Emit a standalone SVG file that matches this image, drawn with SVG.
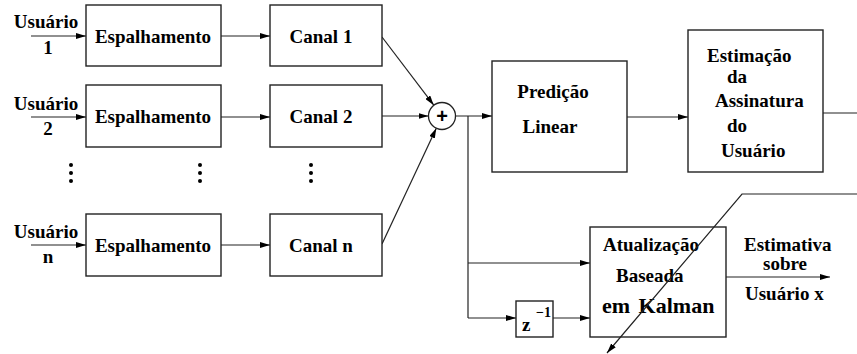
<svg xmlns="http://www.w3.org/2000/svg" width="857" height="354" viewBox="0 0 857 354">
<defs>
<marker id="ah" viewBox="0 0 10 6" refX="10" refY="3" markerWidth="10" markerHeight="6" markerUnits="userSpaceOnUse" orient="auto">
<path d="M0,0 L10,3 L0,6 Z" fill="#000"/>
</marker>
</defs>
<style>
.box{fill:#fff;stroke:#222;stroke-width:1.4}
.ln{fill:none;stroke:#222;stroke-width:1.2}
.ar{fill:none;stroke:#222;stroke-width:1.2;marker-end:url(#ah)}
text{font-family:"Liberation Serif","Times New Roman",serif;font-weight:bold;font-size:19px;fill:#000}
.c{text-anchor:middle}
</style>
<rect width="857" height="354" fill="#fff"/>
<g id="connectors">
<line class="ar" x1="31" y1="36" x2="86" y2="36"/>
<line class="ar" x1="31" y1="117" x2="86" y2="117"/>
<line class="ar" x1="31" y1="245" x2="86" y2="245"/>
<line class="ar" x1="221" y1="36" x2="270" y2="36"/>
<line class="ar" x1="221" y1="117" x2="270" y2="117"/>
<line class="ar" x1="221" y1="245" x2="270" y2="245"/>
<line class="ar" x1="382" y1="37" x2="433.8" y2="105.2"/>
<line class="ar" x1="382" y1="116" x2="428.5" y2="116"/>
<line class="ar" x1="382" y1="244" x2="436.3" y2="128.2"/>
<line class="ar" x1="455.5" y1="116" x2="492" y2="116"/>
<polyline class="ln" points="468,116 468,318"/>
<line class="ar" x1="468" y1="263" x2="590" y2="263"/>
<line class="ar" x1="468" y1="318" x2="516" y2="318"/>
<line class="ar" x1="553" y1="318" x2="590" y2="318"/>
<line class="ar" x1="627" y1="117" x2="688" y2="117"/>
<line class="ln" x1="823" y1="113" x2="857" y2="113"/>
<line class="ar" x1="726" y1="277" x2="830" y2="277"/>
</g>
<g id="user1"><text class="c" x="46" y="28">Usuário</text><text class="c" x="48" y="54">1</text></g>
<g id="user2"><text class="c" x="46" y="110">Usuário</text><text class="c" x="48" y="135">2</text></g>
<g id="usern"><text class="c" x="46" y="238">Usuário</text><text class="c" x="48" y="263">n</text></g>
<g id="esp1"><rect class="box" x="86" y="5" width="135" height="61"/><text class="c" x="153" y="43">Espalhamento</text></g>
<g id="esp2"><rect class="box" x="86" y="85" width="135" height="62"/><text class="c" x="153" y="123">Espalhamento</text></g>
<g id="espn"><rect class="box" x="86" y="214" width="135" height="62"/><text class="c" x="153" y="252">Espalhamento</text></g>
<g id="canal1"><rect class="box" x="270" y="5" width="112" height="61"/><text class="c" x="321" y="43">Canal 1</text></g>
<g id="canal2"><rect class="box" x="270" y="85" width="112" height="62"/><text class="c" x="321" y="123">Canal 2</text></g>
<g id="canaln"><rect class="box" x="270" y="214" width="112" height="62"/><text class="c" x="321" y="252">Canal n</text></g>
<g id="dots" fill="#000">
<circle cx="71" cy="165" r="2"/><circle cx="71" cy="173" r="2"/><circle cx="71" cy="181" r="2"/>
<circle cx="200" cy="165" r="2"/><circle cx="200" cy="173" r="2"/><circle cx="200" cy="181" r="2"/>
<circle cx="311" cy="165" r="2"/><circle cx="311" cy="173" r="2"/><circle cx="311" cy="181" r="2"/>
</g>
<g id="sum"><circle cx="442" cy="116" r="13.5" fill="#fff" stroke="#222" stroke-width="1.3"/><text class="c" x="442" y="123" style="font-family:'Liberation Sans',Arial,sans-serif;font-size:20px">+</text></g>
<g id="predicao"><rect class="box" x="492" y="61" width="135" height="111"/><text class="c" x="553" y="98">Predição</text><text class="c" x="550" y="133">Linear</text></g>
<g id="estimacao"><rect class="box" x="688" y="30" width="135" height="142"/>
<text x="707" y="62">Estimação</text>
<text x="727" y="83">da</text>
<text x="715" y="107">Assinatura</text>
<text x="727" y="132">do</text>
<text x="721" y="157">Usuário</text></g>
<g id="z"><rect class="box" x="516" y="301" width="37" height="36"/><text x="522" y="331">z</text><text x="536" y="317" style="font-size:14px">−1</text></g>
<g id="kalman"><rect class="box" x="590" y="227" width="136" height="110"/>
<text x="603" y="251">Atualização</text>
<text x="616" y="282">Baseada</text>
<text x="602" y="313" style="font-size:22px;word-spacing:3px">em Kalman</text></g>
<g id="saida"><text x="744" y="251">Estimativa</text><text x="763" y="270">sobre</text><text x="745" y="300">Usuário x</text></g>
<g id="diagonal"><polyline class="ar" points="857,194 742,194 607,353"/></g>
</svg>
